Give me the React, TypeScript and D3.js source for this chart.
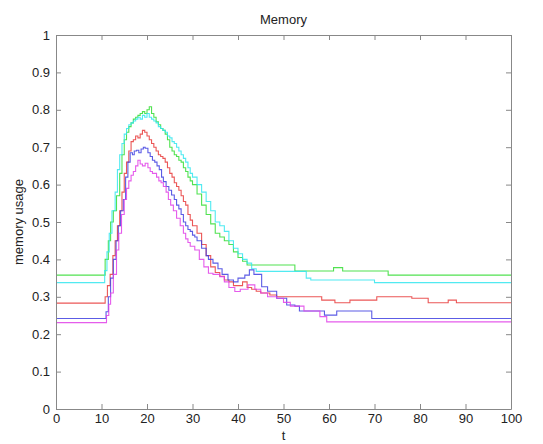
import React, { useEffect, useRef } from "react";
import * as d3 from "d3";

// tick values
const xTicks = [0, 10, 20, 30, 40, 50, 60, 70, 80, 90, 100];
const yTicks = [0, 0.1, 0.2, 0.3, 0.4, 0.5, 0.6, 0.7, 0.8, 0.9, 1];

// each series: [t, memory usage] step breakpoints
const greenSeries: [number, number][] = [
  [0, 0.358], [10.8, 0.4], [11.5, 0.45], [12, 0.5], [12.6, 0.53], [13.3, 0.57], [14, 0.63], [14.5, 0.68],
  [15, 0.72], [15.5, 0.74], [16, 0.755], [16.5, 0.765], [17, 0.775], [17.5, 0.78], [18, 0.785], [18.5, 0.79],
  [19, 0.795], [19.5, 0.79], [20, 0.8], [20.5, 0.808], [21, 0.79], [21.5, 0.78], [22, 0.768], [22.5, 0.76],
  [23, 0.75], [23.5, 0.745], [24, 0.735], [24.5, 0.72], [25, 0.7], [25.5, 0.69], [26, 0.68], [26.5, 0.675],
  [27, 0.665], [27.5, 0.66], [28, 0.645], [28.5, 0.635], [29, 0.62], [29.5, 0.61], [30, 0.6], [31, 0.575],
  [32, 0.545], [33, 0.52], [34, 0.495], [35, 0.47], [36, 0.46], [37, 0.45], [38, 0.44], [39, 0.42],
  [40, 0.405], [41, 0.395], [42, 0.385], [52.5, 0.369], [61, 0.378], [63, 0.369], [73, 0.358], [100, 0.358],
];

const cyanSeries: [number, number][] = [
  [0, 0.338], [10.7, 0.37], [11.2, 0.42], [11.7, 0.47], [12.3, 0.53], [13, 0.58], [13.5, 0.64], [14, 0.68],
  [14.5, 0.71], [15, 0.735], [15.5, 0.75], [16, 0.76], [16.5, 0.765], [17, 0.77], [17.5, 0.775], [18, 0.78],
  [18.5, 0.775], [19, 0.785], [19.5, 0.78], [20, 0.79], [20.5, 0.78], [21, 0.775], [21.5, 0.77], [22, 0.765],
  [22.5, 0.755], [23, 0.75], [23.5, 0.745], [24, 0.74], [24.5, 0.73], [25, 0.725], [25.5, 0.715], [26, 0.71],
  [26.5, 0.7], [27, 0.69], [27.5, 0.68], [28, 0.67], [28.5, 0.66], [29, 0.645], [29.5, 0.63], [30, 0.62],
  [31, 0.6], [32, 0.58], [33, 0.555], [34, 0.53], [35, 0.5], [36, 0.49], [37, 0.475], [38, 0.45],
  [39, 0.43], [40, 0.415], [41, 0.4], [42, 0.39], [43, 0.375], [44, 0.368], [55, 0.35], [56, 0.345],
  [70, 0.338], [100, 0.338],
];

const redSeries: [number, number][] = [
  [0, 0.283], [10.8, 0.3], [11.3, 0.33], [11.9, 0.36], [12.5, 0.41], [13, 0.45], [13.5, 0.49], [14, 0.53],
  [14.5, 0.58], [15, 0.63], [15.5, 0.66], [16, 0.69], [16.5, 0.715], [17, 0.72], [17.5, 0.73], [18, 0.725],
  [18.5, 0.735], [19, 0.745], [19.5, 0.74], [20, 0.73], [20.5, 0.72], [21, 0.71], [21.5, 0.7], [22, 0.69],
  [22.5, 0.68], [23, 0.675], [23.5, 0.67], [24, 0.66], [24.5, 0.645], [25, 0.63], [25.5, 0.62], [26, 0.605],
  [26.5, 0.595], [27, 0.585], [27.5, 0.57], [28, 0.555], [28.5, 0.545], [29, 0.52], [29.5, 0.505], [30, 0.49],
  [31, 0.47], [32, 0.44], [33, 0.41], [34, 0.38], [35, 0.365], [36, 0.355], [37, 0.345], [38, 0.34],
  [39, 0.33], [40, 0.33], [41, 0.34], [42, 0.325], [43, 0.32], [44, 0.315], [45, 0.31], [47, 0.305],
  [48.5, 0.3], [58.4, 0.291], [61.3, 0.284], [64.6, 0.291], [70.5, 0.3], [78.2, 0.296], [81.8, 0.284],
  [86.2, 0.291], [88, 0.284], [100, 0.284],
];

const blueSeries: [number, number][] = [
  [0, 0.242], [11, 0.26], [11.5, 0.3], [12, 0.35], [12.6, 0.4], [13.2, 0.45], [13.7, 0.49], [14.2, 0.53],
  [14.8, 0.56], [15.3, 0.62], [15.8, 0.66], [16.3, 0.685], [16.8, 0.68], [17.2, 0.69], [17.7, 0.692],
  [18.2, 0.685], [18.7, 0.695], [19.2, 0.7], [19.6, 0.697], [20.2, 0.685], [20.7, 0.675], [21.2, 0.665],
  [21.7, 0.66], [22.2, 0.65], [22.7, 0.64], [23.2, 0.62], [23.6, 0.608], [24.2, 0.595], [24.8, 0.585],
  [25.4, 0.572], [26, 0.56], [26.5, 0.545], [27, 0.535], [27.5, 0.52], [28, 0.5], [28.5, 0.49], [29, 0.48],
  [29.5, 0.475], [30, 0.465], [30.5, 0.46], [31, 0.45], [32, 0.43], [33, 0.41], [33.5, 0.4], [34.5, 0.39],
  [35.6, 0.375], [36.5, 0.36], [37.8, 0.345], [39, 0.34], [40, 0.35], [41.5, 0.358], [42.5, 0.372],
  [43.5, 0.36], [45.2, 0.327], [46.5, 0.315], [48.5, 0.296], [50.7, 0.278], [52.5, 0.275], [53.5, 0.262],
  [59, 0.251], [61.7, 0.262], [69.4, 0.242], [100, 0.242],
];

const magentaSeries: [number, number][] = [
  [0, 0.231], [11.1, 0.25], [11.6, 0.28], [12, 0.31], [12.6, 0.36], [13.3, 0.425], [13.8, 0.47], [14.4, 0.52],
  [15, 0.56], [15.5, 0.59], [16, 0.61], [16.5, 0.625], [17, 0.635], [17.5, 0.65], [18, 0.665], [18.5, 0.655],
  [19, 0.65], [19.6, 0.657], [20.2, 0.645], [20.7, 0.635], [21.2, 0.63], [22.1, 0.62], [22.6, 0.61],
  [23.1, 0.605], [23.6, 0.595], [24.2, 0.58], [24.7, 0.56], [25.2, 0.545], [25.8, 0.53], [26.5, 0.51],
  [27.3, 0.49], [28, 0.47], [28.5, 0.455], [29, 0.445], [29.5, 0.435], [30.5, 0.425], [31.5, 0.4],
  [32.5, 0.38], [33.5, 0.363], [34.5, 0.36], [36, 0.354], [37, 0.34], [38, 0.325], [39.3, 0.314],
  [40.5, 0.32], [42.2, 0.332], [43.7, 0.32], [45, 0.31], [46.5, 0.3], [48.5, 0.296], [50, 0.285],
  [51.5, 0.275], [54.5, 0.262], [58, 0.247], [59.5, 0.233], [100, 0.233],
];

const seriesList = [
  { data: greenSeries, color: "#33dd33" },
  { data: cyanSeries, color: "#33e6ee" },
  { data: redSeries, color: "#e83a3a" },
  { data: blueSeries, color: "#4040e0" },
  { data: magentaSeries, color: "#e040e8" },
];

const width = 543;
const height = 444;
const margin = { top: 35, right: 32, bottom: 35, left: 56 };

export default function App() {
  const node = useRef<SVGSVGElement>(null);

  useEffect(() => {
    const svg = d3.select(node.current);
    svg.selectAll("*").remove();

    const x = d3.scaleLinear().domain([0, 100]).range([margin.left, width - margin.right]);
    const y = d3.scaleLinear().domain([0, 1]).range([height - margin.bottom, margin.top]);

    const font = "Liberation Sans, Arial, sans-serif";

    // plot lines
    const line = d3.line<[number, number]>()
      .x(d => x(d[0]))
      .y(d => y(d[1]))
      .curve(d3.curveStepAfter);

    seriesList.forEach(s => {
      svg.append("path")
        .attr("d", line(s.data))
        .attr("fill", "none")
        .attr("stroke", s.color)
        .attr("stroke-width", 1.1)
        .attr("stroke-opacity", 0.85);
    });

    // axes, matlab style with ticks pointing inward
    const styleAxis = (g) => {
      g.select(".domain").attr("stroke", "#888");
      g.selectAll(".tick line").attr("stroke", "#888");
      g.selectAll(".tick text").attr("fill", "#222").style("font-family", font).style("font-size", "13px");
    };

    svg.append("g")
      .attr("transform", `translate(0,${y(0)})`)
      .call(d3.axisBottom(x).tickValues(xTicks).tickSize(-5).tickPadding(5).tickSizeOuter(0))
      .call(styleAxis);

    svg.append("g")
      .attr("transform", `translate(0,${y(1)})`)
      .call(d3.axisTop(x).tickValues(xTicks).tickSize(-5).tickFormat(() => "").tickSizeOuter(0))
      .call(styleAxis);

    svg.append("g")
      .attr("transform", `translate(${x(0)},0)`)
      .call(d3.axisLeft(y).tickValues(yTicks).tickSize(-5).tickPadding(6).tickSizeOuter(0).tickFormat(d => String(d)))
      .call(styleAxis);

    svg.append("g")
      .attr("transform", `translate(${x(100)},0)`)
      .call(d3.axisRight(y).tickValues(yTicks).tickSize(-5).tickFormat(() => "").tickSizeOuter(0))
      .call(styleAxis);

    // titles
    svg.append("text")
      .attr("x", (x(0) + x(100)) / 2)
      .attr("y", 24)
      .attr("text-anchor", "middle")
      .style("font-family", font)
      .style("font-size", "13px")
      .attr("fill", "#222")
      .text("Memory");

    svg.append("text")
      .attr("x", (x(0) + x(100)) / 2)
      .attr("y", 440)
      .attr("text-anchor", "middle")
      .style("font-family", font)
      .style("font-size", "13px")
      .attr("fill", "#222")
      .text("t");

    svg.append("text")
      .attr("transform", `translate(23,${(y(0) + y(1)) / 2}) rotate(-90)`)
      .attr("text-anchor", "middle")
      .style("font-family", font)
      .style("font-size", "13px")
      .attr("fill", "#222")
      .text("memory usage");
  }, []);

  return (
    <div style={{ position: "absolute", left: 0, top: 0, background: "#fff" }}>
      <svg ref={node} width={width} height={height} style={{ display: "block" }} />
    </div>
  );
}
